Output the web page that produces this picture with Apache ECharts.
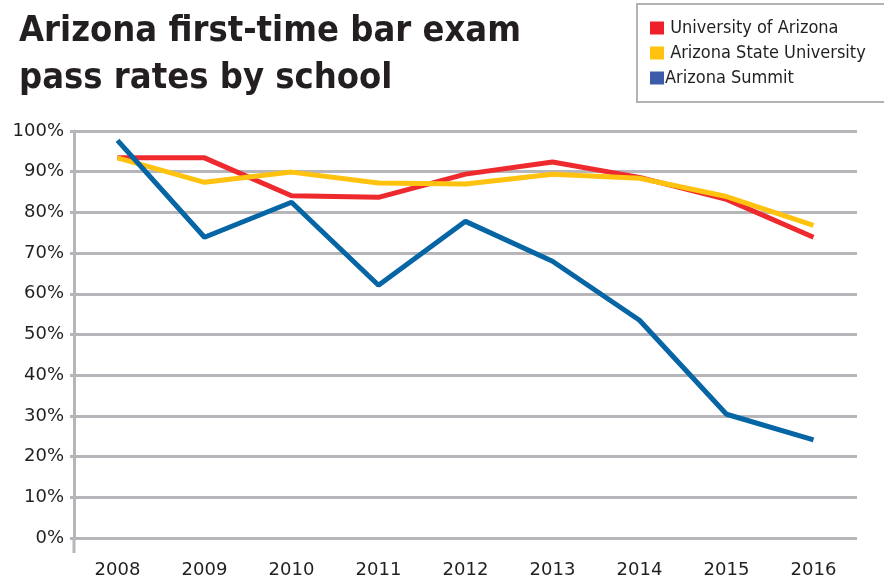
<!DOCTYPE html>
<html>
<head>
<meta charset="utf-8">
<script src="https://cdn.jsdelivr.net/npm/echarts@6/dist/echarts.min.js"></script>
<style>
  html, body { margin: 0; padding: 0; background: #fff; }
  #chart { width: 884px; height: 579px; }
</style>
</head>
<body>
<div id="chart"></div>
<script>
// data (percent)
var years = ['2008', '2009', '2010', '2011', '2012', '2013', '2014', '2015', '2016']
var uOfA = [93.4, 93.4, 84.1, 83.7, 89.4, 92.4, 88.6, 83.2, 73.9]
var asu = [93.4, 87.4, 89.9, 87.2, 87.0, 89.4, 88.4, 83.9, 76.8]
var summit = [97.7, 73.9, 82.5, 62.1, 77.8, 68.0, 53.5, 30.4, 24.1]

var gridLeft = 74
var gridRight = 27
var gridTop = 131
var gridBottom = 41
var grey = '#b6b6ba'

var chart = echarts.init(document.getElementById('chart'))
chart.setOption({
  animation: false,
  title: {
    text: 'Arizona first-time bar exam\npass rates by school',
    left: 14,
    top: 3,
    textStyle: {
      fontFamily: 'DejaVu Sans Condensed',
      fontWeight: 'bold',
      fontSize: 36,
      lineHeight: 47,
      color: '#231f20'
    }
  },
  legend: {
    orient: 'vertical',
    left: 637,
    top: 4,
    padding: [15, 40, 15, 13],
    borderColor: '#b3b3b3',
    borderWidth: 2,
    itemWidth: 14,
    itemHeight: 13,
    itemGap: 7,
    icon: 'rect',
    formatter: function(name) {
      return name === 'Arizona Summit' ? name : ' ' + name
    },
    textStyle: {
      fontFamily: 'DejaVu Sans Condensed',
      fontSize: 18,
      lineHeight: 18,
      color: '#231f20',
      padding: [0, 0, 0, -4]
    },
    data: [
      { name: 'University of Arizona', itemStyle: { color: '#ee2028' }},
      { name: 'Arizona State University', itemStyle: { color: '#ffc20f' }},
      { name: 'Arizona Summit', itemStyle: { color: '#3d5ba9' }}
    ]
  },
  grid: {
    left: gridLeft,
    right: gridRight,
    top: gridTop,
    bottom: gridBottom
  },
  xAxis: {
    type: 'category',
    data: years,
    boundaryGap: true,
    axisLine: { show: false },
    axisTick: { show: false },
    axisLabel: {
      margin: 23,
      fontFamily: 'DejaVu Sans',
      fontSize: 18,
      color: '#231f20'
    }
  },
  yAxis: {
    type: 'value',
    min: 0,
    max: 100,
    interval: 10,
    axisLine: { show: true, lineStyle: { color: grey, width: 3 }},
    axisTick: { show: true, length: 4, lineStyle: { color: grey, width: 3 }},
    axisLabel: {
      margin: 10,
      formatter: '{value}%',
      fontFamily: 'DejaVu Sans',
      fontSize: 18,
      color: '#231f20'
    },
    splitLine: { lineStyle: { color: grey, width: 3 }}
  },
  // the y axis line runs a little below the 0% line
  graphic: [{
    type: 'line',
    shape: { x1: gridLeft, y1: 579 - gridBottom, x2: gridLeft, y2: 579 - gridBottom + 15 },
    style: { stroke: grey, lineWidth: 3 }
  }],
  series: [
    {
      name: 'University of Arizona',
      type: 'line',
      data: uOfA,
      symbol: 'none',
      lineStyle: { color: '#ee2a2e', width: 5 },
      itemStyle: { color: '#ee2a2e' }
    },
    {
      name: 'Arizona State University',
      type: 'line',
      data: asu,
      symbol: 'none',
      lineStyle: { color: '#ffc20f', width: 5 },
      itemStyle: { color: '#ffc20f' }
    },
    {
      name: 'Arizona Summit',
      type: 'line',
      data: summit,
      symbol: 'none',
      lineStyle: { color: '#0565a5', width: 5 },
      itemStyle: { color: '#0565a5' }
    }
  ]
})
</script>
</body>
</html>
